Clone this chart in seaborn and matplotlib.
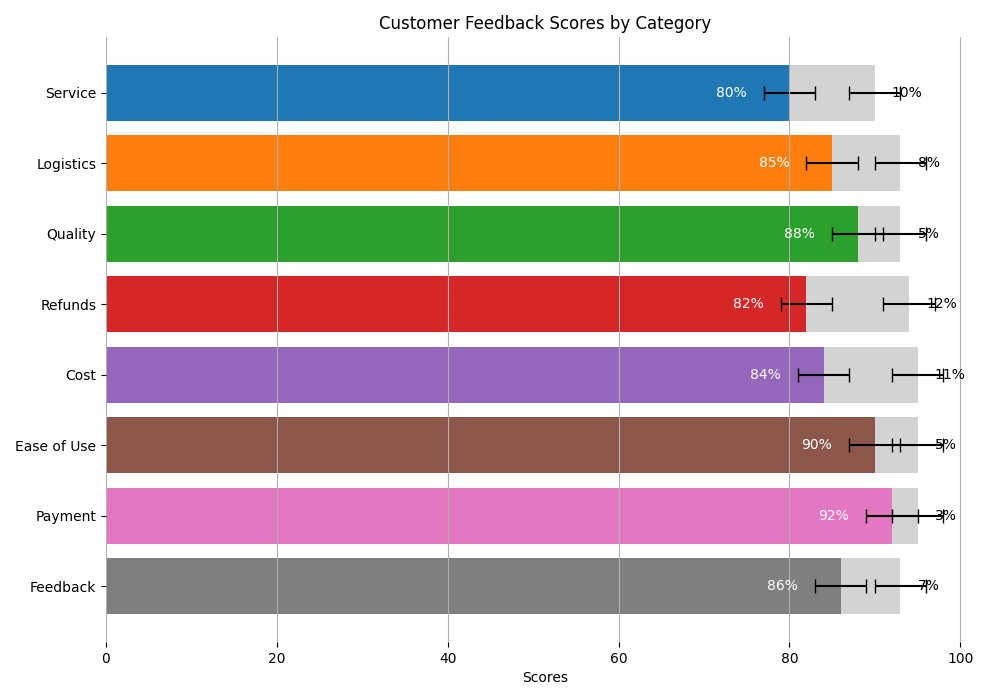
import matplotlib
matplotlib.use("Agg")
import matplotlib.pyplot as plt
import seaborn as sns
import numpy as np
import pandas as pd

categories = ["Service", "Logistics", "Quality", "Refunds", "Cost", "Ease of Use", "Payment", "Feedback"]
scores = [80, 85, 88, 82, 84, 90, 92, 86]
extra_pct = [10, 8, 5, 12, 11, 5, 3, 7]
errors = [3, 3, 3, 3, 3, 3, 3, 3]

totals = [s + e for s, e in zip(scores, extra_pct)]
df = pd.DataFrame({"Category": categories, "Score": scores, "Extra": extra_pct,
                   "Total": totals, "Err": errors})

fig, ax = plt.subplots(figsize=(10, 7), dpi=100)

sns.barplot(data=df, x="Total", y="Category", color="lightgray", orient="h",
            saturation=1, width=0.8, ax=ax)
sns.barplot(data=df, x="Score", y="Category", hue="Category", palette="tab10",
            orient="h", saturation=1, width=0.8, legend=False, ax=ax)

pos = np.arange(len(categories))
ax.errorbar(df["Score"], pos, xerr=df["Err"], fmt="none", ecolor="black",
            capsize=5, elinewidth=1.5)
ax.errorbar(df["Total"], pos, xerr=df["Err"], fmt="none", ecolor="black",
            capsize=5, elinewidth=1.5)

for i, (s, t, e) in enumerate(zip(df["Score"], df["Total"], df["Extra"])):
    ax.text(s - 5, i, f"{s}%", ha="right", va="center", color="white", fontsize=10)
    ax.text(t + 2, i, f"{e}%", ha="left", va="center", color="black", fontsize=10)

xmax = max(t + e for t, e in zip(totals, errors))
ax.set_xlim(0, xmax * 1.05)
ax.set_xticks([0, 20, 40, 60, 80, 100])
ax.set_ylim(len(categories) - 1 + 0.79, -0.79)
ax.set_xlabel("Scores")
ax.set_ylabel("")
ax.set_title("Customer Feedback Scores by Category")
ax.set_axisbelow(False)
ax.grid(True, axis="x", color="#b0b0b0", linewidth=0.8)
ax.grid(False, axis="y")
for sp in ax.spines.values():
    sp.set_visible(False)

fig.subplots_adjust(left=0.106, right=0.985, top=0.947, bottom=0.083)
fig.savefig("out.png", dpi=100)
